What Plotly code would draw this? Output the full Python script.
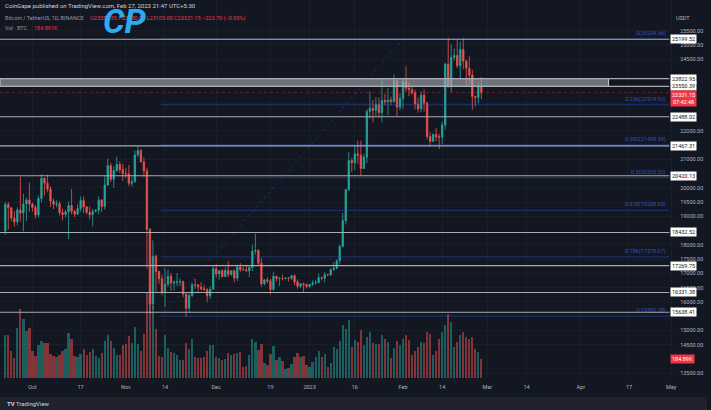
import pandas as pd
import plotly.graph_objects as go

W, H = 711, 410

# ---------------- data (daily BTC/USDT, 22 Sep 2022 -> 27 Feb 2023) ----------------
start_date = "2022-09-22"
opens = [
    18485, 19413, 19297, 18937, 18802, 19222, 19110, 19426, 19573,
    19431, 19312, 19044, 19623, 20336, 20160, 19955, 19531, 19417, 19439, 19131, 19060, 19155, 19375, 19176, 19068,
    19268, 19550, 19334, 19139, 19053, 19172, 19208, 19567, 19345, 20095, 20771, 20295, 20595, 20818, 20635,
    20495, 20485, 20159, 20209, 21148, 21300, 20905, 20592, 18542, 15922, 17602, 17070, 16813, 16330, 16619,
    16900, 16663, 16692, 16700, 16706, 16280, 15781, 16226, 16603, 16598, 16522, 16459, 16428, 16212, 16442,
    17163, 16977, 17092, 16886, 17105, 16966, 17089, 16836, 17224, 17128, 17127, 17085, 17209, 17775, 17803,
    17356, 16633, 16776, 16738, 16439, 16900, 16817, 16825, 16822, 16836, 16832, 16917, 16706, 16547, 16633, 16607,
    16542, 16616, 16672, 16675, 16850, 16831, 16950, 16943, 17127, 17178, 17440, 17943, 18846, 19930, 20954,
    20871, 21185, 21134, 20677, 21071, 22667, 22783, 22707, 22916, 22632, 23060, 23009, 23074, 23022, 23743, 22826,
    23125, 23732, 23488, 23431, 23326, 22932, 22762, 23240, 22963, 21796, 21625, 21862, 21783, 21773, 22199,
    24324, 23538, 24566, 24631, 24271, 24836, 24439, 24188, 23947, 23198, 23158, 23555,
]
highs = [
    19500, 19500, 19316, 19180, 19316, 20385, 19790, 19645, 20185,
    19484, 19395, 19719, 20475, 20365, 20456, 20055, 19620, 19560, 19525, 19268, 19225, 19513, 19951, 19228, 19425,
    19690, 19706, 19360, 19346, 19250, 19248, 19695, 19601, 20415, 21020, 20875, 20750, 21085, 20930, 20840,
    20700, 20800, 20393, 21302, 21480, 21365, 21069, 20700, 18590, 18155, 17658, 17096, 16954, 17190, 17134,
    17015, 16751, 17011, 16820, 16746, 16292, 16300, 16675, 16812, 16611, 16700, 16600, 16483, 16548, 17250,
    17320, 17105, 17155, 17203, 17425, 17107, 17141, 17299, 17360, 17227, 17270, 17241, 18000, 18387, 17846,
    17531, 16800, 16863, 16816, 17061, 16916, 16868, 16958, 16868, 16863, 16944, 16971, 16785, 16664, 16677, 16644,
    16630, 16759, 16777, 16991, 16879, 17041, 16981, 17176, 17398, 17490, 18000, 19117, 19964, 21258, 21050,
    21474, 21647, 21650, 21192, 22755, 23372, 23078, 23170, 23166, 23816, 23283, 23500, 23190, 23960, 23810, 23320,
    23812, 24255, 23715, 23587, 23433, 23158, 23368, 23452, 23011, 21938, 21906, 22090, 21890, 22322, 24380,
    25250, 25021, 24877, 25192, 25121, 25250, 24476, 24600, 24130, 23220, 23689, 23880,
]
lows = [
    18356, 18531, 18818, 18630, 18680, 18816, 18471, 18843, 19155,
    19160, 18920, 18959, 19490, 19730, 19854, 19320, 19255, 19320, 19020, 18860, 18966, 18190, 19071, 18975, 19065,
    19157, 19100, 19070, 18900, 18650, 19133, 19070, 19157, 19240, 20063, 20200, 20000, 20554, 20515, 20237,
    20330, 20055, 20048, 20180, 21080, 20887, 20384, 17166, 15588, 15754, 16361, 16630, 16230, 15815, 16527,
    16378, 16400, 16546, 16555, 16160, 15476, 15630, 16167, 16458, 16345, 16400, 16400, 16001, 16100, 16428,
    16855, 16787, 16866, 16877, 16867, 16905, 16679, 16733, 17058, 17091, 17071, 16873, 17080, 17660, 17275,
    16527, 16584, 16663, 16256, 16397, 16712, 16559, 16752, 16793, 16716, 16774, 16592, 16470, 16488, 16333, 16470,
    16499, 16548, 16607, 16656, 16753, 16679, 16908, 16911, 17095, 17142, 17315, 17910, 18714, 19888, 20551,
    20611, 20834, 20407, 20659, 20861, 22422, 22292, 22513, 22462, 22293, 22892, 22534, 22878, 22978, 22500, 22715,
    22760, 23363, 23204, 23253, 22745, 22628, 22650, 22665, 21688, 21451, 21599, 21630, 21351, 21532, 22047,
    23505, 23339, 24450, 24192, 23840, 24148, 23574, 23608, 22722, 22850, 22950, 23105,
]
closes = [
    19413, 19297, 18937, 18802, 19222, 19110, 19426, 19573, 19431,
    19312, 19044, 19623, 20336, 20160, 19955, 19531, 19417, 19439, 19131, 19060, 19155, 19375, 19176, 19068, 19268,
    19550, 19334, 19139, 19053, 19172, 19208, 19567, 19345, 20095, 20771, 20295, 20595, 20818, 20635, 20495,
    20485, 20159, 20209, 21148, 21300, 20905, 20592, 18542, 15922, 17602, 17070, 16813, 16330, 16619, 16900,
    16663, 16692, 16700, 16706, 16280, 15781, 16226, 16603, 16598, 16522, 16459, 16428, 16212, 16442, 17163,
    16977, 17092, 16886, 17105, 16966, 17089, 16836, 17224, 17128, 17127, 17085, 17209, 17775, 17803, 17356,
    16633, 16776, 16738, 16439, 16900, 16817, 16825, 16822, 16836, 16832, 16917, 16706, 16547, 16633, 16607, 16542,
    16616, 16672, 16675, 16850, 16831, 16950, 16943, 17127, 17178, 17440, 17943, 18846, 19930, 20954, 20871,
    21185, 21134, 20677, 21071, 22667, 22783, 22707, 22916, 22632, 23060, 23009, 23074, 23022, 23743, 22826, 23125,
    23732, 23488, 23431, 23326, 22932, 22762, 23240, 22963, 21796, 21625, 21862, 21783, 21773, 22199, 24324,
    23538, 24566, 24631, 24271, 24836, 24439, 24188, 23947, 23198, 23158, 23555, 23331.15,
]
volumes_k = [
    415, 415, 263, 195, 489, 671, 577, 457, 489,
    263, 214, 321, 360, 343, 343, 233, 214, 200, 224, 263, 280, 441, 382, 214, 200,
    233, 282, 224, 250, 285, 214, 190, 240, 360, 415, 360, 295, 224, 224, 321,
    330, 408, 343, 499, 330, 260, 425, 830, 880, 700, 477, 214, 200, 415, 295,
    250, 240, 224, 180, 180, 343, 282, 376, 205, 195, 190, 200, 263, 321, 321,
    200, 195, 180, 185, 240, 224, 233, 245, 250, 110, 120, 220, 380, 350, 270,
    330, 150, 130, 230, 310, 180, 200, 170, 90, 100, 140, 200, 240, 200, 210, 130,
    110, 160, 200, 260, 200, 230, 110, 150, 300, 280, 360, 520, 480, 560, 300,
    370, 350, 470, 320, 400, 450, 340, 330, 330, 420, 380, 350, 190, 290, 360, 320,
    380, 420, 370, 220, 260, 300, 350, 340, 450, 430, 220, 260, 380, 450, 520,
    620, 540, 300, 350, 420, 450, 400, 380, 400, 280, 250, 184.89,
]

levels = [25199.52, 23822.95, 23550.39, 22488.02, 21467.31, 20420.13, 18432.52, 17269.75, 16331.38, 15638.41]
band_low, band_high = 23550.39, 23822.95
fib_zero, fib_one = 25204.66, 15502.38
fib_ratios = [0, 0.236, 0.382, 0.5, 0.618, 0.786, 1]
fib_start_date, fib_end_date = "2022-11-12 17:00", "2023-02-01 00:00"
last_price = 23331.15
countdown = "07:42:48"
price_ticks = [25500, 25000, 24500, 22000, 21000, 20000, 19500, 19000, 18000, 17500, 17000,
               16500, 16000, 15000, 14500, 13500]
tick_dates = ["2022-10-01", "2022-10-17", "2022-11-01", "2022-11-14", "2022-12-01", "2022-12-19",
              "2023-01-01", "2023-01-16", "2023-02-01", "2023-02-14", "2023-03-01", "2023-03-14",
              "2023-04-01", "2023-04-17", "2023-05-01"]
tick_text = ["Oct", "17", "Nov", "14", "Dec", "19", "2023", "16", "Feb", "14", "Mar", "14", "Apr", "17", "May"]

# ---------------- geometry helpers ----------------
ORIGIN = pd.Timestamp("2022-10-01")
PX0, PXD = 32.6, 3.03            # pixel of Oct 1, pixels per day


def px_date(px):
    return ORIGIN + pd.Timedelta(days=(px - PX0) / PXD)


Y_REF_PRICE, Y_REF_PX, PX_PER_USD = 25500, 30.7, 0.02855
PANE_BOTTOM = 378
PLOT_RIGHT = 677
LINE_RIGHT = 673


def price_at(py):
    return Y_REF_PRICE - (py - Y_REF_PX) / PX_PER_USD


VOL_PX_PER_K = 0.1028
dates = pd.date_range(start_date, periods=len(closes), freq="D")

BG = "#131722"
GRID = "#1a1e29"
AXIS_TXT = "#b2b5be"
FONT = "Roboto"
GREEN, RED = "#26a69a", "#ef5350"

fig = go.Figure()

vol_colors = ["rgba(38,166,154,0.5)" if c >= o else "rgba(239,83,80,0.5)" for o, c in zip(opens, closes)]
fig.add_trace(go.Bar(x=dates, y=volumes_k, marker=dict(color=vol_colors, line=dict(width=0)),
                     width=0.75 * 86400000, xaxis="x", yaxis="y", hoverinfo="skip", showlegend=False))

fig.add_trace(go.Candlestick(
    x=dates, open=opens, high=highs, low=lows, close=closes, xaxis="x", yaxis="y2",
    increasing=dict(line=dict(color=GREEN, width=0.8), fillcolor=GREEN),
    decreasing=dict(line=dict(color=RED, width=0.8), fillcolor=RED),
    whiskerwidth=0, hoverinfo="skip", showlegend=False))

x_left = px_date(0)
x_right = px_date(PLOT_RIGHT)
x_line_end = px_date(LINE_RIGHT)

shapes = []
# bottom strip
shapes.append(dict(type="rect", xref="paper", yref="paper", x0=0, x1=1, y0=0, y1=13 / H,
                   fillcolor="#1e222d", line=dict(width=0), layer="above"))
# fib lines
fib_vals = [fib_zero - r * (fib_zero - fib_one) for r in fib_ratios]
for v in fib_vals:
    shapes.append(dict(type="line", xref="x", yref="y2", x0=fib_start_date, x1=x_line_end, y0=v, y1=v,
                       line=dict(color="rgba(41,98,255,0.33)", width=1.3)))
shapes.append(dict(type="line", xref="x", yref="y2", x0=fib_start_date, x1=fib_end_date,
                   y0=fib_one, y1=fib_zero, line=dict(color="rgba(41,98,255,0.3)", width=1, dash="dot")))
# current price line
shapes.append(dict(type="line", xref="x", yref="y2", x0=x_left, x1=x_line_end, y0=last_price, y1=last_price,
                   line=dict(color="rgba(242,54,69,0.35)", width=1, dash="dot")))
# band
shapes.append(dict(type="rect", xref="x", yref="y2", x0=x_left, x1=px_date(612), y0=band_low, y1=band_high,
                   fillcolor="rgba(170,173,182,0.6)", line=dict(color="#c9ccd3", width=1)))
# horizontal levels
for v in levels:
    shapes.append(dict(type="line", xref="x", yref="y2", x0=x_left, x1=x_line_end, y0=v, y1=v,
                       line=dict(color="#a9acb5", width=1.1)))

ann = []
small = dict(family=FONT, size=5.5)
for v in levels:
    ann.append(dict(x=674 / W, xref="paper", xanchor="left", y=v, yref="y2", yanchor="middle",
                    text=f"{v:.2f}", showarrow=False, bgcolor="#ffffff", borderpad=1,
                    font=dict(**small, color="#131722")))
for r, v in zip(fib_ratios, fib_vals):
    ann.append(dict(x=672 / W, xref="paper", xanchor="right", y=v, yref="y2", yanchor="bottom", yshift=0,
                    text=f"{r}({v:.2f})", showarrow=False, font=dict(**small, color="#3553b5")))
ann.append(dict(x=674 / W, xref="paper", xanchor="left", y=last_price, yref="y2", yanchor="top", yshift=3,
                text=f"{last_price:.2f}<br>{countdown}", showarrow=False, bgcolor="#f23645", borderpad=1,
                font=dict(**small, color="#ffffff")))
ann.append(dict(x=674 / W, xref="paper", xanchor="left", y=volumes_k[-1], yref="y", yanchor="middle",
                text=f"{volumes_k[-1]:.2f}K", showarrow=False, bgcolor="#f23645", borderpad=1,
                font=dict(**small, color="#ffffff")))


def top_note(px, py, text, color, size=5.5, anchor="left"):
    ann.append(dict(x=px / W, xref="paper", xanchor=anchor, y=1 - py / H, yref="paper", yanchor="middle",
                    text=text, showarrow=False, font=dict(family=FONT, size=size, color=color)))


top_note(3, 5, "CoinGape published on TradingView.com, Feb 27, 2023 21:47 UTC+5:30", "#d1d4dc", 6)
top_note(3, 18, "Bitcoin / TetherUS, 1D, BINANCE", "#9598a1")
top_note(88, 18, "O23554.85 H23880.00 L23105.00 C23331.15 −223.70 (−0.95%)", "#f23645")
top_note(3, 28, "Vol · BTC", "#9598a1")
top_note(32, 28, "184.891K", "#f23645")
top_note(687, 18, "USDT", AXIS_TXT, 5.5, "center")
top_note(5, 403, "<b>TV</b> TradingView", "#d1d4dc", 6)
top_note(126, 21, "<b><i>CP</i></b>", "#2eaaf0", 34, "center")

dom_y = [1 - PANE_BOTTOM / H, 1]
fig.update_layout(
    width=W, height=H, margin=dict(l=0, r=0, t=0, b=0),
    paper_bgcolor=BG, plot_bgcolor=BG, showlegend=False, hovermode=False,
    shapes=shapes, annotations=ann, bargap=0, boxgap=0.35,
    xaxis=dict(type="date", domain=[0, PLOT_RIGHT / W], range=[x_left, x_right], anchor="y",
               tickvals=tick_dates, ticktext=tick_text, ticks="", ticklabelstandoff=4,
               tickfont=dict(family=FONT, size=5.5, color=AXIS_TXT),
               showgrid=True, gridcolor=GRID, gridwidth=1, zeroline=False, showline=False,
               rangeslider=dict(visible=False), fixedrange=True),
    yaxis=dict(domain=dom_y, range=[0, PANE_BOTTOM / VOL_PX_PER_K], visible=False, fixedrange=True),
    yaxis2=dict(overlaying="y", side="right", anchor="x",
                range=[price_at(PANE_BOTTOM), price_at(0)], tickvals=price_ticks, tickformat=".2f",
                ticks="", ticklabelstandoff=6, tickfont=dict(family=FONT, size=5.5, color=AXIS_TXT),
                showgrid=True, gridcolor=GRID, zeroline=False, showline=False, fixedrange=True),
)

fig.write_html("out.html")
